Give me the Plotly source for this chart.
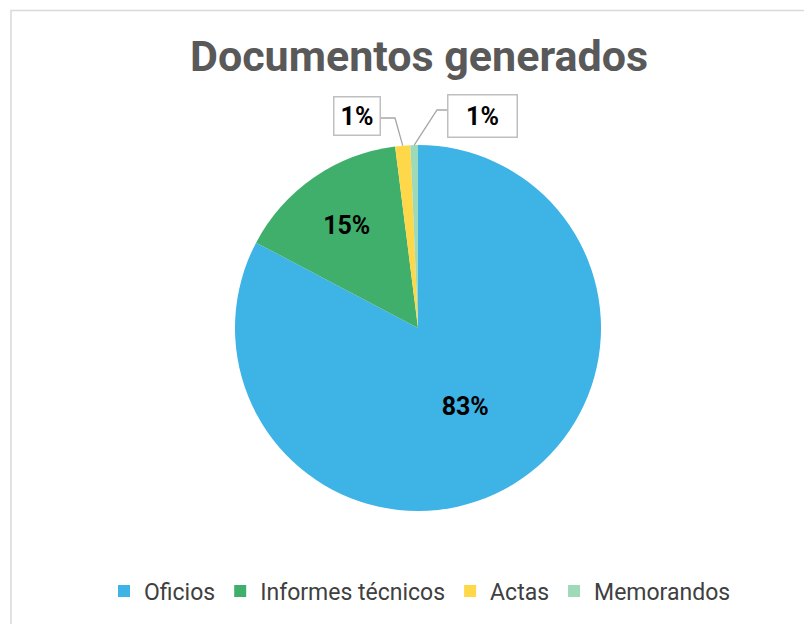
import math
import plotly.graph_objects as go

# Data
categories = ["Oficios", "Informes técnicos", "Actas", "Memorandos"]
values = [249, 46, 4, 2]
colors = ["#3DB3E6", "#40AF6B", "#FFD84A", "#9ED9B8"]

W, H = 812, 624
OFF = 8  # page body margin in the browser
cx, cy, r = 418 - OFF, 328 - OFF, 183  # pie centre/radius in paper pixels


def px2paper(px, py):
    return px / W, 1 - py / H


dom_x = [(cx - r) / W, (cx + r) / W]
dom_y = [1 - (cy + r) / H, 1 - (cy - r) / H]

total = sum(values)
pct = [v / total for v in values]
inside_text = [f"{round(p*100)}%" if p > 0.05 else "" for p in pct]

fig = go.Figure(go.Pie(
    labels=categories,
    values=values,
    sort=False,
    direction="clockwise",
    rotation=0,
    marker=dict(colors=colors, line=dict(width=0)),
    text=inside_text,
    textinfo="text",
    textposition="inside",
    insidetextorientation="horizontal",
    textfont=dict(family="Roboto", size=25, color="#000000", weight="bold"),
    domain=dict(x=dom_x, y=dom_y),
    hoverinfo="label+percent",
))

# callout labels for the small slices: box centre, box size, elbow, box edge (pixels)
callouts = {
    2: dict(box=(356.5, 116.5), size=(47, 39), elbow=(395, 118), edge=(380, 118)),
    3: dict(box=(482, 116.5), size=(70, 43), elbow=(437, 110), edge=(447, 110)),
}
cum = 0.0
for i, p in enumerate(pct):
    mid = (cum + p / 2) * 2 * math.pi
    cum += p
    if i in callouts:
        c = callouts[i]
        tipx = cx + r * math.sin(mid)
        tipy = cy - r * math.cos(mid)
        ex, ey = c["elbow"][0] - OFF, c["elbow"][1] - OFF
        bx, by = c["edge"][0] - OFF, c["edge"][1] - OFF
        p1 = px2paper(tipx, tipy)
        p2 = px2paper(ex, ey)
        p3 = px2paper(bx, by)
        fig.add_shape(type="path", xref="paper", yref="paper",
                      path=f"M {p1[0]} {p1[1]} L {p2[0]} {p2[1]} L {p3[0]} {p3[1]}",
                      line=dict(color="#A6A6A6", width=1.3))
        bcx, bcy = px2paper(c["box"][0] - OFF, c["box"][1] - OFF)
        pad = 4
        fig.add_annotation(
            x=bcx, y=bcy, xref="paper", yref="paper",
            xanchor="center", yanchor="middle",
            text=f"<b>{round(p*100)}%</b>", showarrow=False,
            width=c["size"][0] - 2 * pad - 2, height=c["size"][1] - 2 * pad - 2,
            align="center", valign="middle",
            font=dict(family="Roboto", size=25, color="#000000"),
            bgcolor="#FFFFFF", bordercolor="#BFBFBF", borderwidth=1.5,
            borderpad=pad,
        )

fig.add_shape(type="rect", xref="paper", yref="paper",
              x0=(11 - OFF) / W, x1=1.2, y0=-0.2, y1=1 - (10.5 - OFF) / H,
              line=dict(color="#D9D9D9", width=1.5))

tx, ty = px2paper(419 - OFF, 56 - OFF)
lx, ly = px2paper(420 - OFF, 591 - OFF)
fig.update_layout(
    width=W, height=H,
    margin=dict(l=0, r=0, t=0, b=0),
    paper_bgcolor="#FFFFFF",
    plot_bgcolor="#FFFFFF",
    title=dict(text="<b>Documentos generados</b>", x=tx, xanchor="center",
               y=ty, yanchor="middle",
               font=dict(family="Roboto", size=43, color="#595959")),
    legend=dict(orientation="h", x=lx, xanchor="center",
                y=ly, yanchor="middle",
                font=dict(family="Roboto", size=23, color="#404040"),
                itemwidth=30, tracegroupgap=0),
    showlegend=True,
)

fig.write_html("out.html")
